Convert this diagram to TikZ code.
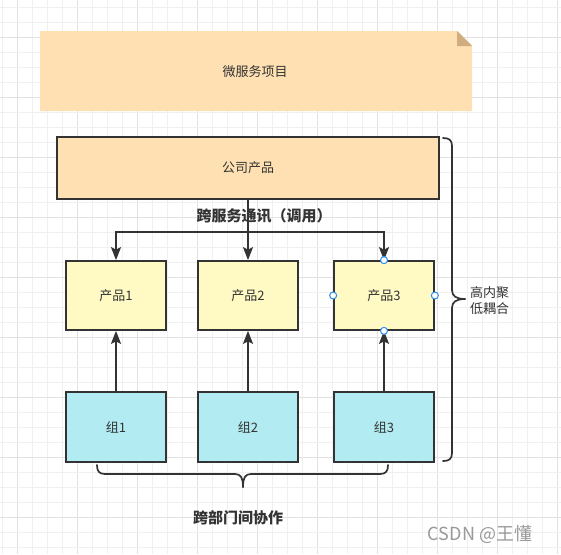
\documentclass[tikz,border=0pt]{standalone}
\usepackage{fontspec}
\setmainfont{Noto Sans CJK SC}
\usetikzlibrary{arrows.meta}
\definecolor{ln}{HTML}{333333}
\definecolor{txt}{HTML}{333333}
\definecolor{notefill}{HTML}{FFE0B2}
\definecolor{notefold}{HTML}{CFAD7E}
\definecolor{cofill}{HTML}{FFE0B2}
\definecolor{pfill}{HTML}{FFF9C4}
\definecolor{gfill}{HTML}{B2EBF2}
\definecolor{gridl}{HTML}{F0F0F0}
\definecolor{gridd}{HTML}{E2E2E2}
\definecolor{handle}{HTML}{2A8CF2}
\tikzset{
  box/.style={draw=ln, line width=1.7, text=txt, inner sep=0, font=\fontsize{13}{15}\selectfont},
  prod/.style={box, fill=pfill, minimum width=100, minimum height=69},
  grp/.style={box, fill=gfill, minimum width=100, minimum height=70},
  arr/.style={draw=ln, line width=1.7, -{Stealth[length=13, width=10, inset=2.5]}},
  bracepath/.style={draw=ln, line width=1.7, line cap=round, line join=round},
  lbl/.style={text=txt, inner sep=0, font=\fontsize{13}{16}\selectfont},
  blbl/.style={text=txt, inner sep=0, font=\fontsize{15}{17}\selectfont\bfseries},
  hnd/.style={circle, draw=handle, fill=white, line width=1, minimum size=7, inner sep=0},
}
\begin{document}
\begin{tikzpicture}[x=1pt, y=-1pt]
\useasboundingbox (0,0) rectangle (561,554);
\fill[white] (0,0) rectangle (561,554);
% grid
\foreach \i in {0,...,37} {
  \pgfmathtruncatemacro\dk{mod(\i,4)==1 ? 1 : 0}
  \ifnum\dk=1 \draw[gridd, line width=0.9] (2.5+15*\i,0) -- (2.5+15*\i,554);
  \else \draw[gridl, line width=0.9] (2.5+15*\i,0) -- (2.5+15*\i,554); \fi
}
\foreach \j in {0,...,36} {
  \pgfmathtruncatemacro\dk{mod(\j,4)==2 ? 1 : 0}
  \ifnum\dk=1 \draw[gridd, line width=0.9] (0,7.5+15*\j) -- (561,7.5+15*\j);
  \else \draw[gridl, line width=0.9] (0,7.5+15*\j) -- (561,7.5+15*\j); \fi
}
% note
\fill[notefill] (40,31) -- (457,31) -- (472,46) -- (472,111) -- (40,111) -- cycle;
\fill[notefold] (457,31) -- (472,46) -- (457,46) -- cycle;
\node[lbl] (note) at (255,72) {微服务项目};
% company
\node[box, fill=cofill, minimum width=382, minimum height=62] (co) at (248,168) {公司产品};
% products
\node[prod] (p1) at (116,295.5) {产品1};
\node[prod] (p2) at (248,295.5) {产品2};
\node[prod] (p3) at (384,295.5) {产品3};
% groups
\node[grp] (g1) at (116,427) {组1};
\node[grp] (g2) at (248,427) {组2};
\node[grp] (g3) at (384,427) {组3};
% connectors
\path (co.south) ++(0,32) coordinate (j);
\draw[arr] (co.south) -- (p2.north);
\draw[arr] (j) -| (p1.north);
\draw[arr] (j) -| (p3.north);
\draw[arr] (g1.north) -- (p1.south);
\draw[arr] (g2.north) -- (p2.south);
\draw[arr] (g3.north) -- (p3.south);
\node[blbl] (call) at (264,216) {跨服务通讯（调用）};
% handles
\node[hnd] (h1) at (p3.north) {};
\node[hnd] (h2) at (p3.west) {};
\node[hnd] (h3) at (p3.east) {};
\node[hnd] (h4) at (p3.south) {};
% right brace
\draw[bracepath] (443,138) .. controls (449,138) and (452,140) .. (452,146) -- (452,290) .. controls (452,296) and (456,299) .. (465,299);
\draw[bracepath] (443,461) .. controls (449,461) and (452,459) .. (452,453) -- (452,308) .. controls (452,302) and (456,299) .. (465,299);
\node[lbl, align=center] (hc) at (489.5,301) {高内聚\\低耦合};
% bottom brace
\draw[bracepath] (97,465) .. controls (97,471) and (99,474) .. (105,474) -- (235,474) .. controls (241,474) and (243,478) .. (243,487);
\draw[bracepath] (388,465) .. controls (388,471) and (386,474) .. (380,474) -- (251,474) .. controls (245,474) and (243,478) .. (243,487);
\node[blbl] (dept) at (238,518) {跨部门间协作};
% watermark
\node[inner sep=0, text=black!40, font=\fontsize{18}{20}\selectfont] (wm) at (480,534) {CSDN @王懂};
\end{tikzpicture}
\end{document}
